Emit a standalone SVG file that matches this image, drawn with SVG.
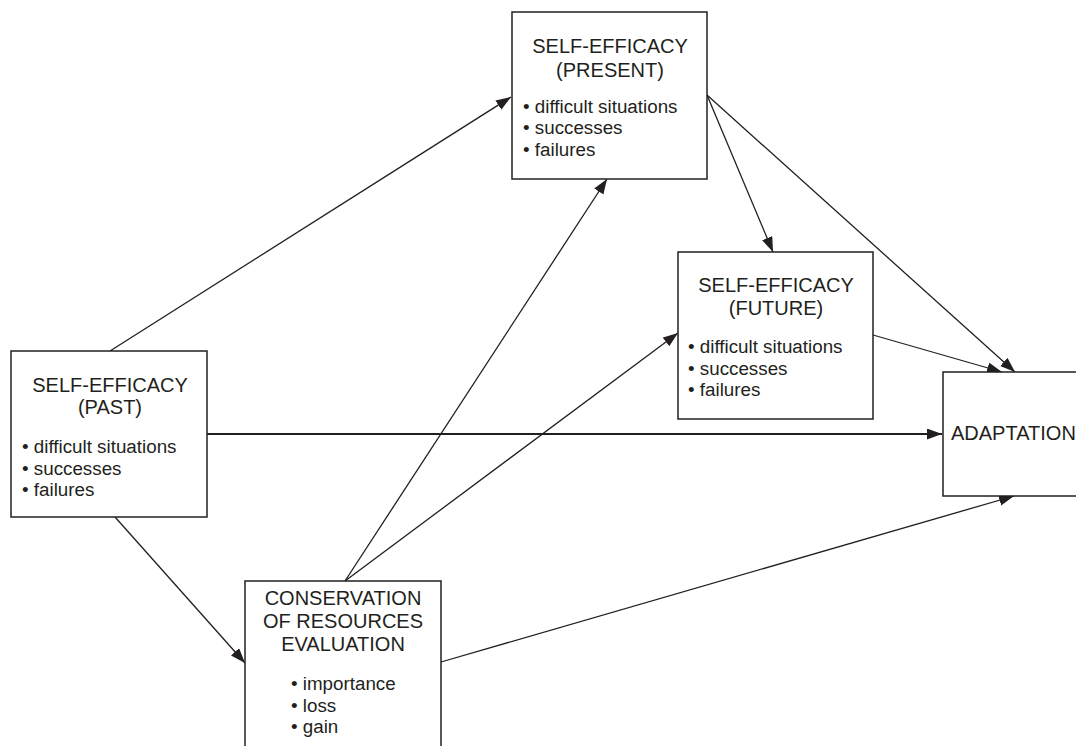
<svg xmlns="http://www.w3.org/2000/svg" width="1076" height="746" viewBox="0 0 1076 746">
  <defs>
    <marker id="arr" markerUnits="userSpaceOnUse" markerWidth="16" markerHeight="12" refX="15" refY="5.5" orient="auto">
      <path d="M0,0 L15,5.5 L0,11 z" fill="#231f20"/>
    </marker>
    <style>
      .box { fill: #ffffff; stroke: #231f20; stroke-width: 1.5; }
      .title { font-family: "Liberation Sans", Arial, sans-serif; font-size: 20px; fill: #231f20; text-anchor: middle; }
      .item { font-family: "Liberation Sans", Arial, sans-serif; font-size: 18.8px; fill: #231f20; }
      .conn { stroke: #231f20; stroke-width: 1.3; fill: none; marker-end: url(#arr); }
    </style>
  </defs>
  <rect width="1076" height="746" fill="#ffffff"/>

  <g id="connectors">
    <line class="conn" x1="110" y1="351" x2="511" y2="97"/>
    <line class="conn" x1="207" y1="434" x2="942" y2="434" style="stroke-width:1.8"/>
    <line class="conn" x1="115" y1="517" x2="245" y2="663"/>
    <line class="conn" x1="345" y1="581" x2="607" y2="179"/>
    <line class="conn" x1="345" y1="581" x2="678" y2="333"/>
    <line class="conn" x1="441" y1="662" x2="1014" y2="496"/>
    <line class="conn" x1="707" y1="95" x2="773" y2="252"/>
    <line class="conn" x1="707" y1="95" x2="1015" y2="372"/>
    <line class="conn" x1="873" y1="335" x2="1002" y2="372"/>
  </g>

  <g id="present">
    <rect class="box" x="512" y="12" width="195" height="167"/>
    <text class="title" x="610" y="53">SELF-EFFICACY</text>
    <text class="title" x="610" y="77">(PRESENT)</text>
    <text class="item" x="523" y="113">• difficult situations</text>
    <text class="item" x="523" y="134">• successes</text>
    <text class="item" x="523" y="156">• failures</text>
  </g>

  <g id="future">
    <rect class="box" x="678" y="252" width="195" height="167"/>
    <text class="title" x="776" y="292">SELF-EFFICACY</text>
    <text class="title" x="776" y="315">(FUTURE)</text>
    <text class="item" x="688" y="353">• difficult situations</text>
    <text class="item" x="688" y="375">• successes</text>
    <text class="item" x="688" y="396">• failures</text>
  </g>

  <g id="past">
    <rect class="box" x="11" y="351" width="196" height="166"/>
    <text class="title" x="110" y="392">SELF-EFFICACY</text>
    <text class="title" x="110" y="414">(PAST)</text>
    <text class="item" x="22" y="453">• difficult situations</text>
    <text class="item" x="22" y="475">• successes</text>
    <text class="item" x="22" y="496">• failures</text>
  </g>

  <g id="conservation">
    <rect class="box" x="245" y="581" width="196" height="180"/>
    <text class="title" x="343" y="605">CONSERVATION</text>
    <text class="title" x="343" y="628">OF RESOURCES</text>
    <text class="title" x="343" y="651">EVALUATION</text>
    <text class="item" x="291" y="690">• importance</text>
    <text class="item" x="291" y="712">• loss</text>
    <text class="item" x="291" y="733">• gain</text>
  </g>

  <g id="adaptation">
    <rect class="box" x="943" y="372" width="150" height="124"/>
    <text class="title" x="951" y="440" style="text-anchor:start">ADAPTATION</text>
  </g>
</svg>
